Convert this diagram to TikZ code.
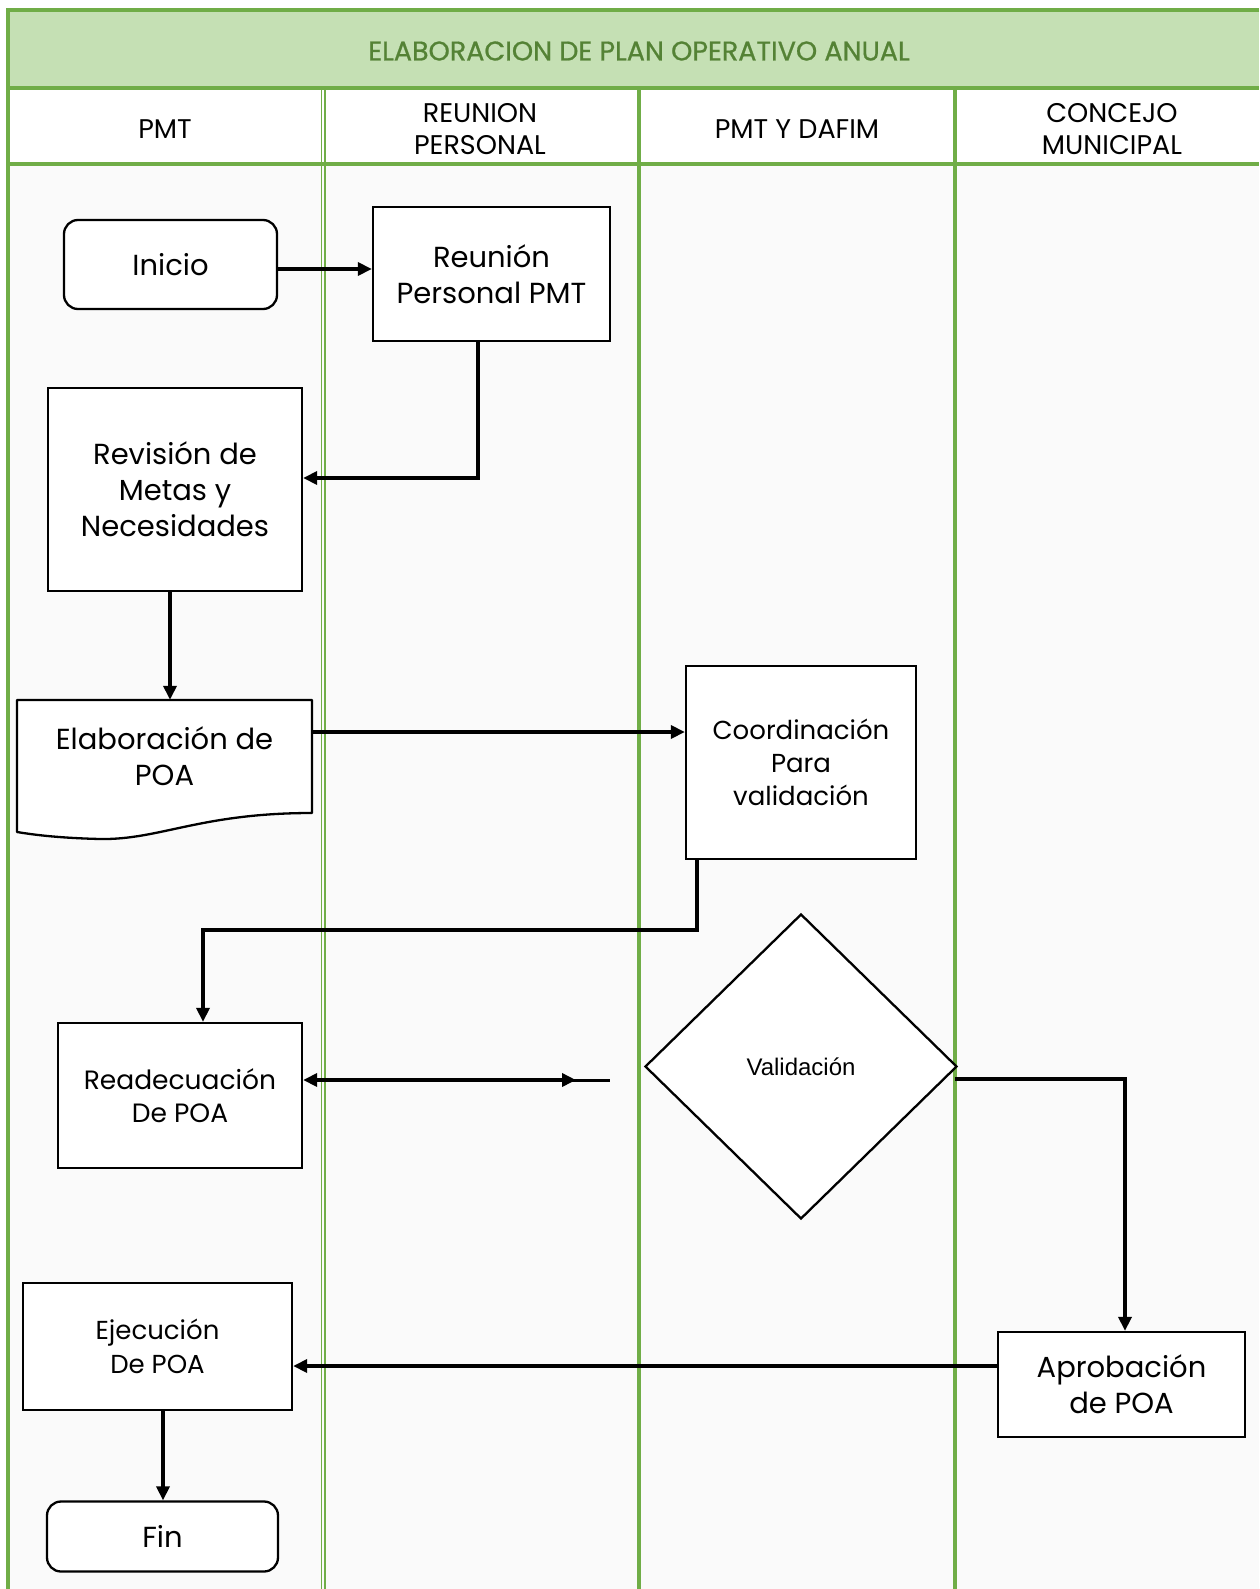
\documentclass[tikz,border=0pt]{standalone}
\usepackage{fontspec}
\setmainfont{Poppins}
\newfontfamily\arialfont{Liberation Sans}
\newfontfamily\titlefont{Poppins}[FakeBold=0.8]
\usetikzlibrary{arrows.meta,shapes.geometric}
\definecolor{lanegreen}{HTML}{70AD47}
\definecolor{headfill}{HTML}{C5E0B4}
\definecolor{titlegreen}{HTML}{548235}
\begin{document}
\begin{tikzpicture}[x=1pt,y=-1pt,
  box/.style={draw=black,line width=2.3pt,fill=white,align=center,inner sep=0pt},
  term/.style={box,rounded corners=14pt},
  tip/.style={},
  arr/.style={line width=3.5pt,-{Triangle[length=14pt,width=13pt]}},
  lane/.style={draw=lanegreen,line width=3.5pt},
  thinlane/.style={draw=lanegreen,line width=1.4pt},
  big/.style={font=\fontsize{29}{36}\selectfont},
  mid/.style={font=\fontsize{26}{33}\selectfont},
  head/.style={font=\fontsize{27}{32}\selectfont,align=center}
]
\useasboundingbox (0,0) rectangle (1259,1589);
\fill[white] (0,0) rectangle (1259,1589);
\fill[black!2] (8,164) rectangle (1259,1589);

% header band and lane title row
\fill[headfill] (8,10) rectangle (1259,88);
\fill[white] (8,88) rectangle (1259,164);
\node[font=\titlefont\fontsize{27}{32}\selectfont,text=titlegreen] (title) at (639,51) {ELABORACION DE PLAN OPERATIVO ANUAL};
\node[head] (l1) at (165,129) {PMT};
\node[head] (l2) at (480,129) {REUNION\\PERSONAL};
\node[head] (l3) at (797,129) {PMT Y DAFIM};
\node[head] (l4) at (1112,129) {CONCEJO\\MUNICIPAL};

% swimlane grid
\draw[lane] (1259,10) -- (8,10) -- (8,1589);
\draw[lane] (8,88) -- (1259,88);
\draw[lane] (8,164) -- (1259,164);
\draw[thinlane] (321.5,88) -- (321.5,1589);
\draw[thinlane] (325,88) -- (325,1589);
\draw[lane] (639,88) -- (639,1589);
\draw[lane] (955,88) -- (955,1589);

% process steps
\node[term,big,minimum width=213pt,minimum height=89pt] (inicio) at (170.5,264.5) {Inicio};
\node[box,big,minimum width=237pt,minimum height=134pt] (reunion) at (491.5,274) {Reunión\\Personal PMT};
\node[box,big,minimum width=254pt,minimum height=203pt] (revision) at (175,489.5) {Revisión de\\Metas y\\Necesidades};
\fill[white,draw=black,line width=2.3pt,line join=round]
  (17,832) -- (17,700) -- (312,700) -- (312,813)
  .. controls (200,813) and (160,840) .. (100,839)
  .. controls (60,838) and (35,835) .. cycle;
\node[big,align=center,minimum width=295pt,minimum height=113pt,inner sep=0pt] (elab) at (164.5,756.5) {Elaboración de\\POA};
\node[box,mid,minimum width=230pt,minimum height=193pt] (coord) at (801,762.5) {Coordinación\\Para\\validación};
\node[diamond,draw=black,line width=2.3pt,fill=white,inner sep=0pt,minimum width=312pt,minimum height=305pt,font=\arialfont\fontsize{24}{28}\selectfont] (val) at (801,1066.5) {Validación};
\node[box,font=\fontsize{26.5}{32.5}\selectfont,minimum width=244pt,minimum height=145pt] (readec) at (180,1095.5) {Readecuación\\De POA};
\node[box,font=\fontsize{26}{34.5}\selectfont,minimum width=269pt,minimum height=127pt] (ejec) at (157.5,1346.5) {Ejecución\\De POA};
\node[box,big,minimum width=247pt,minimum height=105pt] (aprob) at (1121.5,1384.5) {Aprobación\\de POA};
\node[term,big,minimum width=231pt,minimum height=70pt] (fin) at (162.5,1536.5) {Fin};
\coordinate (loose) at (610,1080);

% connectors
\draw[arr] (inicio.east |- 0,269) -- (reunion.west |- 0,269);
\draw[arr] (reunion.south -| 478,0) |- (revision.east |- 0,478);
\draw[arr] (revision.south -| 170,0) -- (elab.north -| 170,0);
\draw[arr] (elab.east |- 0,732) -- (coord.west |- 0,732);
\draw[arr] (coord.south -| 697,0) |- (203,930) -- (readec.north -| 203,0);
\draw[line width=4pt,{Triangle[length=14pt,width=13pt]}-{Triangle[length=14pt,width=13pt]}] (readec.east |- 0,1080) -- (576,1080);
\draw[line width=3pt] (570,1080) -- (loose);
\draw[arr] (955,1079) -| (aprob.north -| 1125,0);
\draw[arr] (aprob.west |- 0,1366) -- (ejec.east |- 0,1366);
\draw[arr] (ejec.south -| 163,0) -- (fin.north -| 163,0);
\end{tikzpicture}
\end{document}
